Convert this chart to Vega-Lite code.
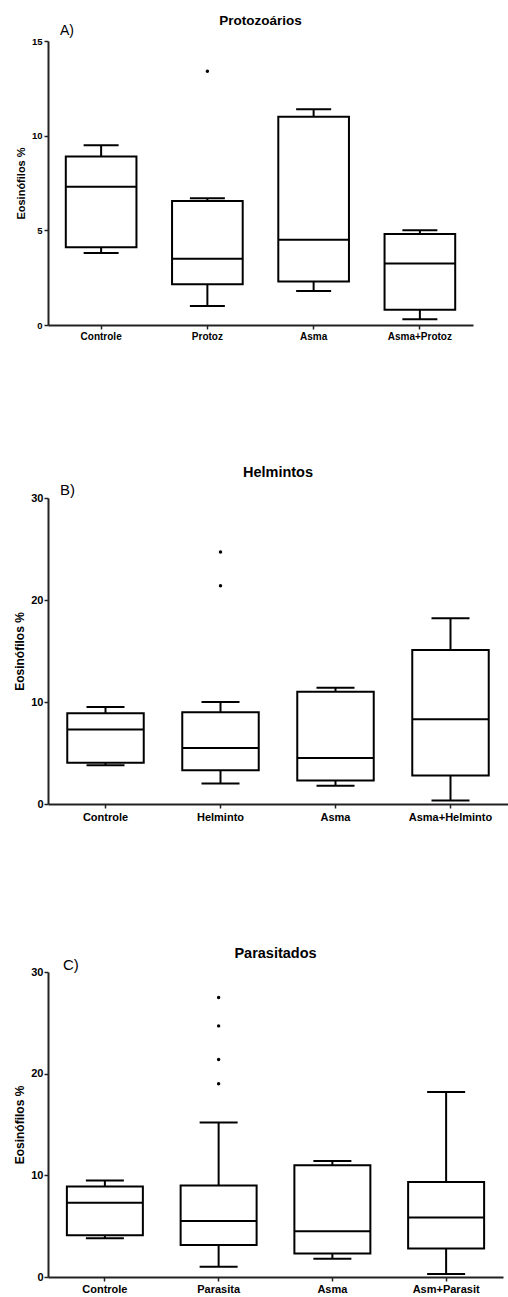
{
  "$schema": "https://vega.github.io/schema/vega-lite/v6.json",
  "padding": {"left": 13, "top": 13, "right": 0, "bottom": 0},
  "spacing": 123,
  "background": "white",
  "config": {
    "view": {"stroke": null},
    "font": "Liberation Sans",
    "axis": {
      "domainColor": "#222222", "domainWidth": 2,
      "tickColor": "#222222", "tickWidth": 1.5, "tickSize": 4,
      "labelColor": "black", "labelFont": "Liberation Sans", "labelFontWeight": "bold",
      "titleColor": "black", "titleFont": "Liberation Sans", "titleFontWeight": "bold",
      "grid": false
    },
    "title": {"font": "Liberation Sans", "fontWeight": "bold", "color": "black", "anchor": "middle"}
  },
  "datasets": {
    "stats": [
      {"panel": "A", "group": "Controle", "low": 3.8, "q1": 4.1, "median": 7.3, "q3": 8.9, "high": 9.5},
      {"panel": "A", "group": "Protoz", "low": 1.0, "q1": 2.15, "median": 3.5, "q3": 6.55, "high": 6.7},
      {"panel": "A", "group": "Asma", "low": 1.8, "q1": 2.3, "median": 4.5, "q3": 11.0, "high": 11.4},
      {"panel": "A", "group": "Asma+Protoz", "low": 0.3, "q1": 0.8, "median": 3.25, "q3": 4.8, "high": 5.0},
      {"panel": "B", "group": "Controle", "low": 3.8, "q1": 4.05, "median": 7.3, "q3": 8.9, "high": 9.5},
      {"panel": "B", "group": "Helminto", "low": 2.0, "q1": 3.3, "median": 5.5, "q3": 9.0, "high": 10.0},
      {"panel": "B", "group": "Asma", "low": 1.8, "q1": 2.3, "median": 4.5, "q3": 11.0, "high": 11.4},
      {"panel": "B", "group": "Asma+Helminto", "low": 0.35, "q1": 2.8, "median": 8.3, "q3": 15.1, "high": 18.2},
      {"panel": "C", "group": "Controle", "low": 3.8, "q1": 4.1, "median": 7.3, "q3": 8.9, "high": 9.5},
      {"panel": "C", "group": "Parasita", "low": 1.0, "q1": 3.15, "median": 5.5, "q3": 9.0, "high": 15.2},
      {"panel": "C", "group": "Asma", "low": 1.8, "q1": 2.3, "median": 4.5, "q3": 11.0, "high": 11.4},
      {"panel": "C", "group": "Asm+Parasit", "low": 0.3, "q1": 2.8, "median": 5.85, "q3": 9.35, "high": 18.2}
    ],
    "outliers": [
      {"panel": "A", "group": "Protoz", "value": 13.4},
      {"panel": "B", "group": "Helminto", "value": 24.7},
      {"panel": "B", "group": "Helminto", "value": 21.4},
      {"panel": "C", "group": "Parasita", "value": 27.5},
      {"panel": "C", "group": "Parasita", "value": 24.7},
      {"panel": "C", "group": "Parasita", "value": 21.4},
      {"panel": "C", "group": "Parasita", "value": 19.0}
    ]
  },
  "vconcat": [
    {
      "width": 425, "height": 284,
      "title": {"text": "Protozoários", "fontSize": 13.5, "offset": -3},
      "layer": [
        {
          "data": {"name": "stats"},
          "transform": [{"filter": "datum.panel === 'A'"}],
          "encoding": {
            "x": {"field": "group", "type": "nominal",
              "scale": {"domain": ["Controle", "Protoz", "Asma", "Asma+Protoz"], "paddingInner": 0, "paddingOuter": 0},
              "axis": {"title": null, "labelAngle": 0, "labelFontSize": 10, "labelPadding": 2}}
          },
          "layer": [
            {"mark": {"type": "rule", "color": "black", "strokeWidth": 2},
              "encoding": {"y": {"field": "low", "type": "quantitative",
                "scale": {"domain": [0, 15], "nice": false},
                "axis": {"title": "Eosinófilos %", "values": [0, 5, 10, 15], "labelFontSize": 9.5, "titleFontSize": 11, "labelPadding": 2, "titlePadding": 5}},
                "y2": {"field": "q1"}}},
            {"mark": {"type": "rule", "color": "black", "strokeWidth": 2},
              "encoding": {"y": {"field": "q3", "type": "quantitative"}, "y2": {"field": "high"}}},
            {"mark": {"type": "bar", "fill": "white", "stroke": "black", "strokeWidth": 2, "width": {"band": 0.665}},
              "encoding": {"y": {"field": "q1", "type": "quantitative"}, "y2": {"field": "q3"}}},
            {"mark": {"type": "tick", "orient": "horizontal", "size": 70, "thickness": 2, "color": "black", "opacity": 1},
              "encoding": {"y": {"field": "median", "type": "quantitative"}}},
            {"mark": {"type": "tick", "orient": "horizontal", "size": 35, "thickness": 2, "color": "black", "opacity": 1},
              "encoding": {"y": {"field": "low", "type": "quantitative"}}},
            {"mark": {"type": "tick", "orient": "horizontal", "size": 35, "thickness": 2, "color": "black", "opacity": 1},
              "encoding": {"y": {"field": "high", "type": "quantitative"}}}
          ]
        },
        {
          "data": {"name": "outliers"},
          "transform": [{"filter": "datum.panel === 'A'"}],
          "mark": {"type": "point", "filled": true, "color": "black", "size": 12, "opacity": 1},
          "encoding": {"x": {"field": "group", "type": "nominal"}, "y": {"field": "value", "type": "quantitative"}}
        },
        {
          "data": {"values": [{"label": "A)"}]},
          "mark": {"type": "text", "align": "left", "baseline": "alphabetic", "dx": 12, "dy": -6, "fontSize": 14, "font": "Liberation Sans", "color": "black"},
          "encoding": {"x": {"datum": "Controle", "type": "nominal", "bandPosition": 0}, "y": {"datum": 15, "type": "quantitative"}, "text": {"field": "label"}}
        }
      ]
    },
    {
      "width": 460, "height": 306,
      "title": {"text": "Helmintos", "fontSize": 14.5, "offset": 3},
      "layer": [
        {
          "data": {"name": "stats"},
          "transform": [{"filter": "datum.panel === 'B'"}],
          "encoding": {
            "x": {"field": "group", "type": "nominal",
              "scale": {"domain": ["Controle", "Helminto", "Asma", "Asma+Helminto"], "paddingInner": 0, "paddingOuter": 0},
              "axis": {"title": null, "labelAngle": 0, "labelFontSize": 11, "labelPadding": 3}}
          },
          "layer": [
            {"mark": {"type": "rule", "color": "black", "strokeWidth": 2},
              "encoding": {"y": {"field": "low", "type": "quantitative",
                "scale": {"domain": [0, 30], "nice": false},
                "axis": {"title": "Eosinófilos %", "values": [0, 10, 20, 30], "labelFontSize": 11, "titleFontSize": 12, "labelPadding": 1, "titlePadding": 4}},
                "y2": {"field": "q1"}}},
            {"mark": {"type": "rule", "color": "black", "strokeWidth": 2},
              "encoding": {"y": {"field": "q3", "type": "quantitative"}, "y2": {"field": "high"}}},
            {"mark": {"type": "bar", "fill": "white", "stroke": "black", "strokeWidth": 2, "width": {"band": 0.665}},
              "encoding": {"y": {"field": "q1", "type": "quantitative"}, "y2": {"field": "q3"}}},
            {"mark": {"type": "tick", "orient": "horizontal", "size": 76, "thickness": 2, "color": "black", "opacity": 1},
              "encoding": {"y": {"field": "median", "type": "quantitative"}}},
            {"mark": {"type": "tick", "orient": "horizontal", "size": 38, "thickness": 2, "color": "black", "opacity": 1},
              "encoding": {"y": {"field": "low", "type": "quantitative"}}},
            {"mark": {"type": "tick", "orient": "horizontal", "size": 38, "thickness": 2, "color": "black", "opacity": 1},
              "encoding": {"y": {"field": "high", "type": "quantitative"}}}
          ]
        },
        {
          "data": {"name": "outliers"},
          "transform": [{"filter": "datum.panel === 'B'"}],
          "mark": {"type": "point", "filled": true, "color": "black", "size": 12, "opacity": 1},
          "encoding": {"x": {"field": "group", "type": "nominal"}, "y": {"field": "value", "type": "quantitative"}}
        },
        {
          "data": {"values": [{"label": "B)"}]},
          "mark": {"type": "text", "align": "left", "baseline": "alphabetic", "dx": 12, "dy": -3, "fontSize": 15, "font": "Liberation Sans", "color": "black"},
          "encoding": {"x": {"datum": "Controle", "type": "nominal", "bandPosition": 0}, "y": {"datum": 30, "type": "quantitative"}, "text": {"field": "label"}}
        }
      ]
    },
    {
      "width": 455, "height": 305,
      "title": {"text": "Parasitados", "fontSize": 14.5, "offset": -3},
      "layer": [
        {
          "data": {"name": "stats"},
          "transform": [{"filter": "datum.panel === 'C'"}],
          "encoding": {
            "x": {"field": "group", "type": "nominal",
              "scale": {"domain": ["Controle", "Parasita", "Asma", "Asm+Parasit"], "paddingInner": 0, "paddingOuter": 0},
              "axis": {"title": null, "labelAngle": 0, "labelFontSize": 11, "labelPadding": 2}}
          },
          "layer": [
            {"mark": {"type": "rule", "color": "black", "strokeWidth": 2},
              "encoding": {"y": {"field": "low", "type": "quantitative",
                "scale": {"domain": [0, 30], "nice": false},
                "axis": {"title": "Eosinófilos %", "values": [0, 10, 20, 30], "labelFontSize": 11, "titleFontSize": 12, "labelPadding": 1, "titlePadding": 4}},
                "y2": {"field": "q1"}}},
            {"mark": {"type": "rule", "color": "black", "strokeWidth": 2},
              "encoding": {"y": {"field": "q3", "type": "quantitative"}, "y2": {"field": "high"}}},
            {"mark": {"type": "bar", "fill": "white", "stroke": "black", "strokeWidth": 2, "width": {"band": 0.668}},
              "encoding": {"y": {"field": "q1", "type": "quantitative"}, "y2": {"field": "q3"}}},
            {"mark": {"type": "tick", "orient": "horizontal", "size": 76, "thickness": 2, "color": "black", "opacity": 1},
              "encoding": {"y": {"field": "median", "type": "quantitative"}}},
            {"mark": {"type": "tick", "orient": "horizontal", "size": 38, "thickness": 2, "color": "black", "opacity": 1},
              "encoding": {"y": {"field": "low", "type": "quantitative"}}},
            {"mark": {"type": "tick", "orient": "horizontal", "size": 38, "thickness": 2, "color": "black", "opacity": 1},
              "encoding": {"y": {"field": "high", "type": "quantitative"}}}
          ]
        },
        {
          "data": {"name": "outliers"},
          "transform": [{"filter": "datum.panel === 'C'"}],
          "mark": {"type": "point", "filled": true, "color": "black", "size": 12, "opacity": 1},
          "encoding": {"x": {"field": "group", "type": "nominal"}, "y": {"field": "value", "type": "quantitative"}}
        },
        {
          "data": {"values": [{"label": "C)"}]},
          "mark": {"type": "text", "align": "left", "baseline": "alphabetic", "dx": 15, "dy": -2, "fontSize": 15, "font": "Liberation Sans", "color": "black"},
          "encoding": {"x": {"datum": "Controle", "type": "nominal", "bandPosition": 0}, "y": {"datum": 30, "type": "quantitative"}, "text": {"field": "label"}}
        }
      ]
    }
  ]
}
